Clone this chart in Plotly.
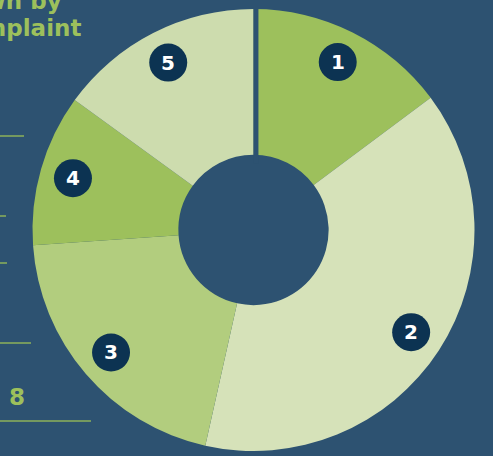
import math
import plotly.graph_objects as go

# ---- data ----
categories = ["1", "2", "3", "4", "5"]
shares = [14.8, 38.7, 20.4, 11.1, 15.0]
slice_colors = ["#9dc05c", "#d6e2b9", "#b2cd7e", "#9dc05c", "#cddcae"]
title_line1 = "Breakdown by"
title_line2 = "type of complaint"
side_value = "8"

W, H = 493, 456
BG = "#2d5271"
GREEN = "#9dc05c"
NAVY = "#0c3352"
R_OUT = 221.0  # px, outer radius of the pie

dom_x = [32.5 / W, 474.5 / W]
dom_y = [5 / H, 447 / H]

fig = go.Figure()
fig.add_trace(go.Pie(
    labels=categories, values=shares, sort=False, direction="clockwise",
    rotation=0, hole=0.34, textinfo="none", hoverinfo="label+percent",
    marker=dict(colors=slice_colors, line=dict(width=0)),
    domain=dict(x=dom_x, y=dom_y), showlegend=False,
))

fig.update_layout(
    width=W, height=H, margin=dict(l=0, r=0, t=0, b=0),
    paper_bgcolor=BG, plot_bgcolor="rgba(0,0,0,0)",
    xaxis=dict(domain=dom_x, range=[-1, 1], visible=False, fixedrange=True),
    yaxis=dict(domain=dom_y, range=[-1, 1], visible=False, fixedrange=True),
)

# numbered badges at slice mid-angles
total = sum(shares)
acc = 0.0
rb = 19 / R_OUT
for cat, v in zip(categories, shares):
    mid = (acc + v / 2) / total * 2 * math.pi
    cx = 0.85 * math.sin(mid)
    cy = 0.85 * math.cos(mid)
    acc += v
    fig.add_shape(type="circle", xref="x", yref="y", x0=cx - rb, x1=cx + rb,
                  y0=cy - rb, y1=cy + rb, fillcolor=NAVY, line=dict(width=0),
                  layer="above")
    fig.add_annotation(text=cat, xref="x", yref="y", x=cx, y=cy, showarrow=False,
                       xanchor="center", yanchor="middle",
                       font=dict(family="DejaVu Sans", size=20, color="white",
                                 weight="bold"))

# separator at 12 o'clock
fig.add_shape(type="line", xref="x", yref="y", x0=0.011, x1=0.011, y0=0.3, y1=1.02,
              line=dict(color=BG, width=5), layer="above")

# cut-off title
fig.add_annotation(text=title_line1, xref="paper", yref="paper", x=64 / W, y=1 - 1 / H,
                   xanchor="right", yanchor="middle", showarrow=False,
                   font=dict(family="DejaVu Sans", size=23, color=GREEN, weight="bold"))
fig.add_annotation(text=title_line2, xref="paper", yref="paper", x=83 / W, y=1 - 28 / H,
                   xanchor="right", yanchor="middle", showarrow=False,
                   font=dict(family="DejaVu Sans", size=23, color=GREEN, weight="bold"))
fig.add_annotation(text=side_value, xref="paper", yref="paper", x=16.5 / W, y=1 - 397 / H,
                   xanchor="center", yanchor="middle", showarrow=False,
                   font=dict(family="DejaVu Sans", size=23, color=GREEN, weight="bold"))

# cut-off table rules on the left
for yy, xx in [(136, 24), (216, 6), (263, 7), (343, 31), (421, 91)]:
    fig.add_shape(type="line", xref="paper", yref="paper", x0=0, x1=xx / W,
                  y0=1 - yy / H, y1=1 - yy / H, line=dict(color="#8db25a", width=1.5))

fig.write_html("out.html", config={"displayModeBar": False},
               post_script="document.body.style.margin='0';"
                           "document.body.style.overflow='hidden';")
